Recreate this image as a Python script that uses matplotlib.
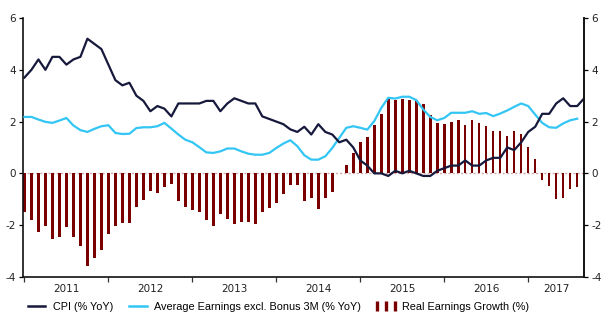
import matplotlib
matplotlib.use("Agg")
import matplotlib.pyplot as plt
from matplotlib.lines import Line2D
import numpy as np

# monthly series, Dec 2010 .. Aug 2017
cpi = [3.7, 4.0, 4.4, 4.0, 4.5, 4.5, 4.2, 4.4, 4.5, 5.2, 5.0, 4.8,
       4.2, 3.6, 3.4, 3.5, 3.0, 2.8, 2.4, 2.6, 2.5, 2.2, 2.7, 2.7,
       2.7, 2.7, 2.8, 2.8, 2.4, 2.7, 2.9, 2.8, 2.7, 2.7, 2.2, 2.1,
       2.0, 1.9, 1.7, 1.6, 1.8, 1.5, 1.9, 1.6, 1.5, 1.2, 1.3, 1.0,
       0.5, 0.3, 0.0, 0.0, -0.1, 0.1, 0.0, 0.1, 0.0, -0.1, -0.1, 0.1,
       0.2, 0.3, 0.3, 0.5, 0.3, 0.3, 0.5, 0.6, 0.6, 1.0, 0.9, 1.2,
       1.6, 1.8, 2.3, 2.3, 2.7, 2.9, 2.6, 2.6, 2.9]

earnings = [2.18, 2.18, 2.08, 1.99, 1.95, 2.04, 2.14, 1.85, 1.67, 1.60, 1.72, 1.82,
            1.86, 1.56, 1.52, 1.53, 1.75, 1.78, 1.78, 1.82, 1.95, 1.73, 1.50, 1.30,
            1.20, 1.01, 0.81, 0.79, 0.85, 0.96, 0.96, 0.85, 0.76, 0.72, 0.72, 0.79,
            0.98, 1.15, 1.28, 1.05, 0.70, 0.53, 0.53, 0.66, 0.98, 1.37, 1.76, 1.82,
            1.76, 1.69, 2.02, 2.53, 2.92, 2.89, 2.96, 2.96, 2.83, 2.47, 2.18, 2.05,
            2.14, 2.34, 2.34, 2.34, 2.40, 2.30, 2.33, 2.21, 2.31, 2.43, 2.57, 2.70,
            2.60, 2.27, 1.95, 1.78, 1.76, 1.93, 2.05, 2.11]

real_growth = [-1.51, -1.80, -2.27, -2.05, -2.53, -2.44, -2.07, -2.47, -2.80, -3.58, -3.28, -2.96,
               -2.35, -2.02, -1.90, -1.93, -1.28, -1.01, -0.70, -0.76, -0.54, -0.40, -1.07, -1.30,
               -1.41, -1.51, -1.82, -2.03, -1.58, -1.77, -1.94, -1.87, -1.89, -1.96, -1.49, -1.34,
               -1.15, -0.79, -0.44, -0.45, -1.05, -0.96, -1.36, -0.96, -0.72, 0.0, 0.31, 0.80,
               1.20, 1.40, 1.85, 2.31, 2.88, 2.83, 2.86, 2.83, 2.83, 2.69, 2.24, 1.93,
               1.90, 2.00, 2.05, 1.86, 2.05, 1.95, 1.83, 1.63, 1.65, 1.43, 1.65, 1.52,
               1.03, 0.57, -0.27, -0.50, -0.98, -0.94, -0.61, -0.52]

years = ['2011', '2012', '2013', '2014', '2015', '2016', '2017']
year_starts = [0, 12, 24, 36, 48, 60, 72]
year_centres = [6, 18, 30, 42, 54, 66, 76]

NAVY = '#16193b'
CYAN = '#33c6f4'
MAROON = '#7a0000'

plt.rcParams['axes.unicode_minus'] = False
plt.rcParams['font.family'] = 'DejaVu Sans'

fig = plt.figure(figsize=(6.13, 3.22), dpi=100)
ax = fig.add_axes([0.037, 0.140, 0.916, 0.804])

ax.axhline(0, color='#d4a9a9', lw=1.0, ls=(0, (1.5, 1.5)), zorder=1)
ax.bar(np.arange(len(real_growth)), real_growth, width=0.36, color=MAROON, zorder=2)
ax.plot(np.arange(len(earnings)), earnings, color=CYAN, lw=1.6, zorder=3)
ax.plot(np.arange(len(cpi)), cpi, color=NAVY, lw=1.6, zorder=4)

ax.set_xlim(-0.25, 80)
ax.set_ylim(-4, 6)
ax.set_yticks(range(-4, 7, 2))

ax.set_xticks(year_starts)
ax.set_xticklabels([])
ax.set_xticks(year_centres, minor=True)
ax.set_xticklabels(years, minor=True)
ax.tick_params(axis='x', which='major', length=3.5, width=0.9, color='#333333')
ax.tick_params(axis='x', which='minor', length=0, pad=5, labelsize=7.5, labelcolor='#222222')
ax.tick_params(axis='y', length=3, width=0.9, pad=2, labelsize=7.5, labelcolor='#222222')

ax.spines['top'].set_visible(False)
for s in ['left', 'right', 'bottom']:
    ax.spines[s].set_linewidth(1.2)
    ax.spines[s].set_color('#111111')

ax2 = ax.twinx()
ax2.set_ylim(-4, 6)
ax2.set_yticks(range(-4, 7, 2))
ax2.tick_params(axis='y', length=3, width=0.9, pad=2, labelsize=7.5, labelcolor='#222222')
for s in ['top', 'left', 'bottom']:
    ax2.spines[s].set_visible(False)
ax2.spines['right'].set_linewidth(1.2)
ax2.spines['right'].set_color('#111111')

handles = [
    Line2D([], [], color=NAVY, lw=1.8),
    Line2D([], [], color=CYAN, lw=1.8),
    Line2D([], [], ls='none', marker='|', ms=7, mew=2.4, color=MAROON),
]
labels = ['CPI (% YoY)', 'Average Earnings excl. Bonus 3M (% YoY)', 'Real Earnings Growth (%)']
fig.legend(handles, labels, loc='center left', bbox_to_anchor=(0.040, 1 - 307 / 322),
           ncol=3, frameon=False, numpoints=3, borderpad=0, borderaxespad=0,
           handlelength=2.2, handletextpad=0.4, columnspacing=1.2,
           prop={'family': 'Liberation Sans', 'size': 7.8})

fig.savefig('out.png', dpi=100)
